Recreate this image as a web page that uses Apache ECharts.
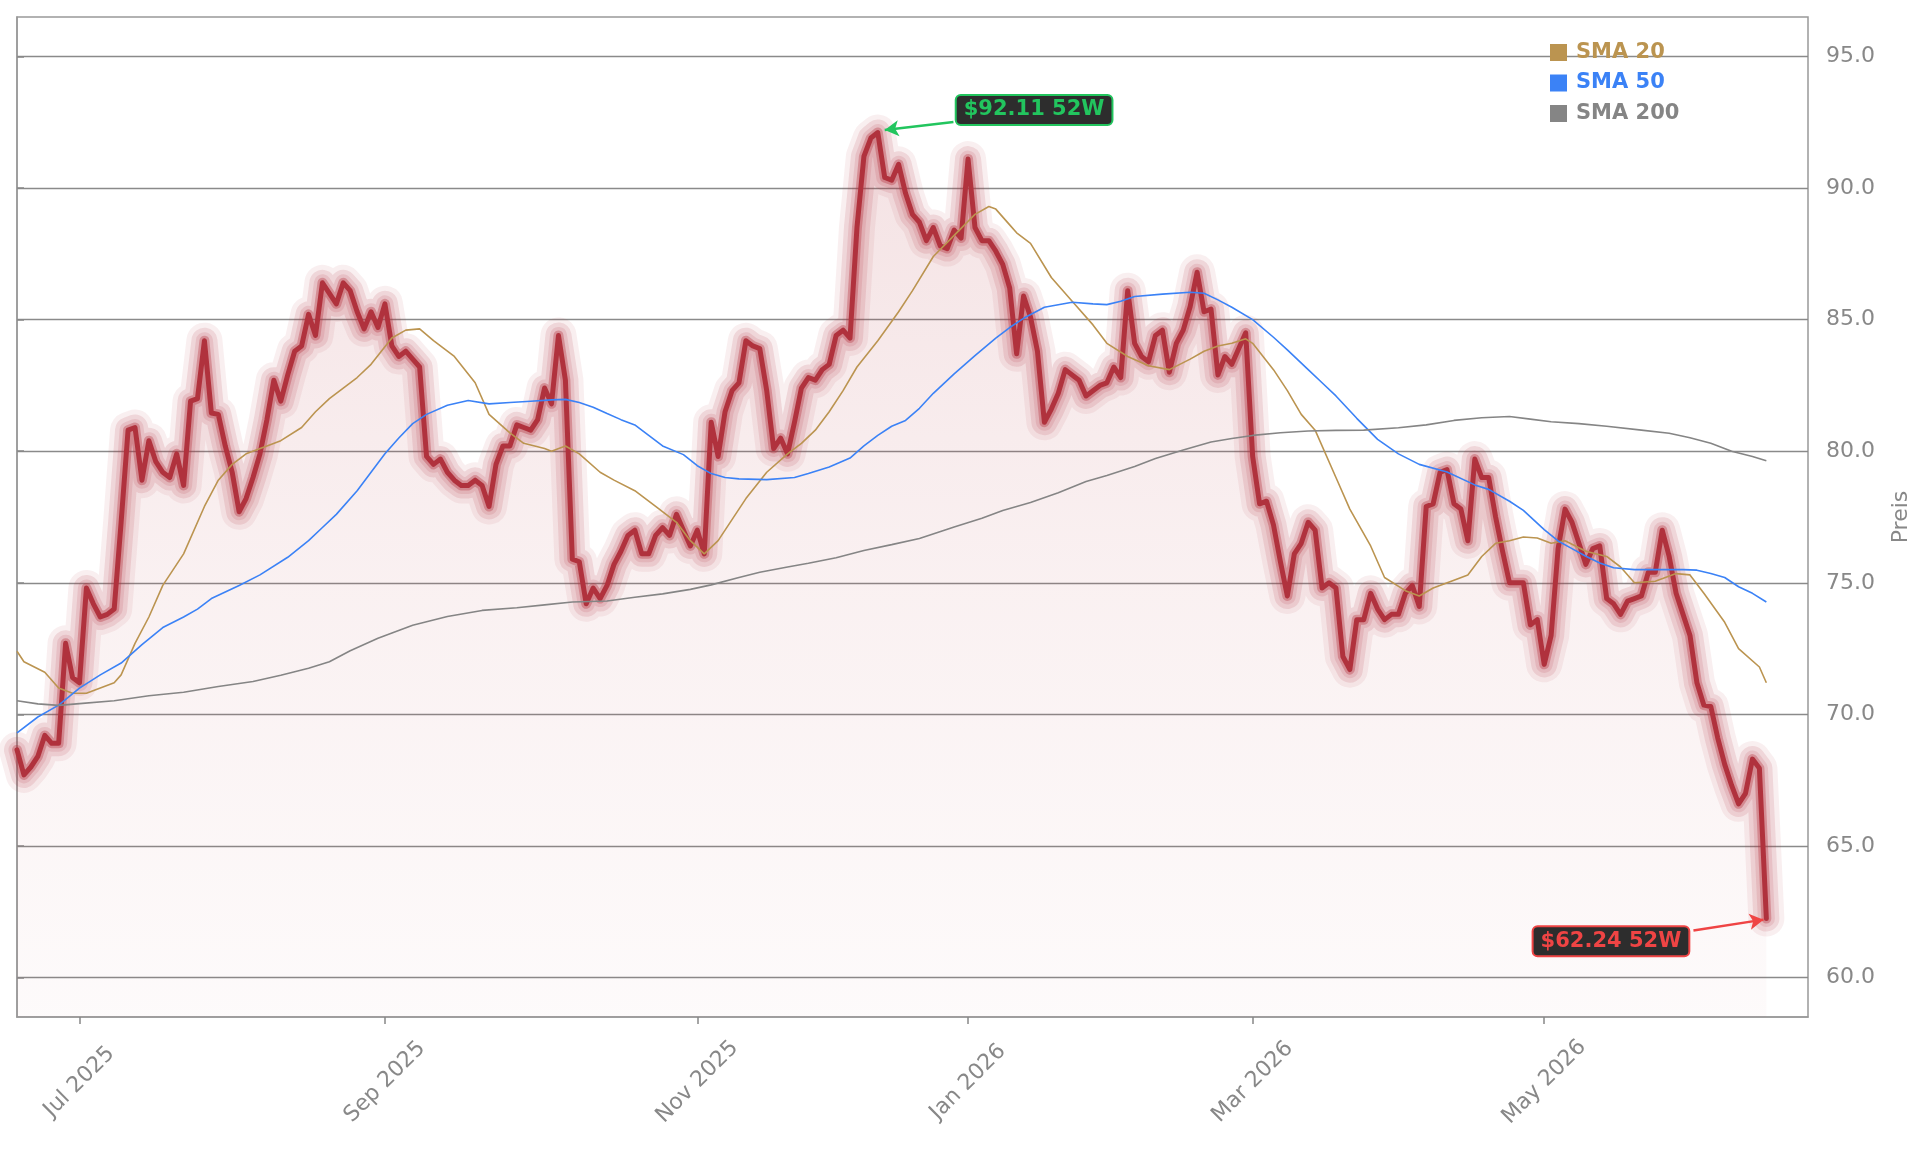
<!DOCTYPE html>
<html>
<head>
<meta charset="utf-8">
<title>Preis 52W</title>
<script src="https://cdn.jsdelivr.net/npm/echarts@6.0.0/dist/echarts.min.js"></script>
<style>
  html, body { margin: 0; padding: 0; background: #fff; }
  #chart { width: 1929px; height: 1153px; }
</style>
</head>
<body>
<div id="chart"></div>
<script>
// one close per trading day, index 0 = first day of the 52W window
const price = [
  68.65, 67.7, 68.0, 68.4, 69.2, 68.9, 68.9, 72.7, 71.4, 71.2,
  74.8, 74.2, 73.7, 73.8, 74.0, 77.3, 80.8, 80.9, 78.9, 80.4,
  79.6, 79.2, 79.0, 79.9, 78.7, 81.9, 82.0, 84.2, 81.45, 81.4,
  80.2, 79.2, 77.7, 78.2, 79.0, 79.9, 81.2, 82.7, 81.9, 82.9,
  83.8, 84.0, 85.2, 84.4, 86.4, 86.0, 85.6, 86.4, 86.1, 85.3,
  84.65, 85.3, 84.7, 85.6, 84.0, 83.6, 83.8, 83.5, 83.2, 79.8,
  79.5, 79.7, 79.2, 78.9, 78.7, 78.7, 78.9, 78.7, 77.9, 79.5,
  80.2, 80.2, 81.0, 80.9, 80.8, 81.2, 82.4, 81.8, 84.4, 82.7,
  75.9, 75.8, 74.2, 74.8, 74.4, 74.9, 75.7, 76.2, 76.8, 77.0,
  76.1, 76.1, 76.8, 77.1, 76.8, 77.6, 77.0, 76.4, 77.0, 76.1,
  81.1, 79.8, 81.5, 82.3, 82.6, 84.2, 84.0, 83.9, 82.3, 80.1,
  80.5, 79.9, 81.1, 82.4, 82.8, 82.7, 83.1, 83.3, 84.4, 84.6,
  84.3, 88.5, 91.2, 91.9, 92.11, 90.4, 90.3, 90.9, 89.8, 89.0,
  88.7, 88.0, 88.5, 87.8, 87.7, 88.4, 88.1, 91.1, 88.5, 88.0,
  88.0, 87.6, 87.1, 86.2, 83.7, 85.9, 85.1, 83.8, 81.1, 81.6,
  82.2, 83.1, 82.9, 82.7, 82.1, 82.3, 82.5, 82.6, 83.2, 82.8,
  86.1, 84.1, 83.6, 83.4, 84.4, 84.6, 83.0, 84.1, 84.6, 85.5,
  86.8, 85.3, 85.4, 82.9, 83.6, 83.3, 83.9, 84.5, 79.8, 78.0,
  78.1, 77.2, 75.8, 74.5, 76.1, 76.5, 77.3, 77.0, 74.8, 75.0,
  74.8, 72.2, 71.7, 73.6, 73.6, 74.6, 74.0, 73.6, 73.8, 73.8,
  74.6, 74.9, 74.1, 77.9, 78.0, 79.2, 79.3, 78.0, 77.8, 76.6,
  79.7, 79.0, 79.0, 77.5, 76.2, 75.0, 75.0, 75.0, 73.4, 73.6,
  71.9, 73.0, 76.3, 77.8, 77.3, 76.5, 75.7, 76.3, 76.4, 74.4,
  74.2, 73.8, 74.3, 74.4, 74.5, 75.4, 75.4, 77.0, 76.0, 74.6,
  73.8, 73.0, 71.2, 70.35, 70.3, 69.1, 68.1, 67.3, 66.6, 67.0,
  68.3, 67.95, 62.24
];

// moving averages as [day index, value]
const sma20 = [
  [0, 72.4], [1, 72.0], [4, 71.6], [6, 71.0], [8, 70.8], [10, 70.8], [12, 71.0], [14, 71.2],
  [15, 71.5], [17, 72.7], [19, 73.7], [21, 74.9], [24, 76.1], [27, 77.9], [29, 78.9], [31, 79.5],
  [33, 79.9], [36, 80.2], [38, 80.4], [41, 80.9], [43, 81.5], [45, 82.0], [47, 82.4], [49, 82.8],
  [51, 83.3], [54, 84.3], [56, 84.6], [58, 84.65], [60, 84.2], [63, 83.6], [66, 82.6], [68, 81.4],
  [71, 80.7], [73, 80.3], [76, 80.1], [77, 80.0], [79, 80.2], [81, 79.9], [84, 79.2], [86, 78.9],
  [89, 78.5], [92, 77.9], [95, 77.3], [97, 76.6], [99, 76.1], [101, 76.6], [103, 77.4], [105, 78.2],
  [108, 79.2], [111, 79.9], [113, 80.3], [115, 80.8], [117, 81.5], [119, 82.3], [121, 83.2], [124, 84.2],
  [127, 85.3], [129, 86.1], [132, 87.4], [135, 88.2], [138, 89.0], [140, 89.3], [141, 89.2], [143, 88.6],
  [144, 88.3], [146, 87.9], [149, 86.6], [152, 85.7], [155, 84.8], [157, 84.1], [160, 83.6], [163, 83.25],
  [166, 83.1], [169, 83.5], [171, 83.8], [173, 84.0], [175, 84.1], [177, 84.27], [178, 84.1], [181, 83.1],
  [183, 82.3], [185, 81.4], [187, 80.8], [190, 79.0], [192, 77.8], [195, 76.4], [197, 75.2], [200, 74.7],
  [202, 74.5], [204, 74.8], [207, 75.1], [209, 75.3], [211, 76.0], [213, 76.5], [215, 76.6], [217, 76.74],
  [219, 76.7], [221, 76.5], [223, 76.6], [226, 76.2], [229, 76.0], [231, 75.6], [233, 75.0], [236, 75.06],
  [239, 75.35], [241, 75.3], [243, 74.6], [246, 73.5], [248, 72.5], [251, 71.8], [252, 71.2]
];
const sma50 = [
  [0, 69.3], [3, 69.9], [6, 70.35], [9, 71.0], [12, 71.5], [15, 71.95], [18, 72.65], [21, 73.3],
  [24, 73.7], [26, 74.0], [28, 74.4], [32, 74.9], [35, 75.3], [39, 75.97], [42, 76.6], [44, 77.1],
  [46, 77.6], [49, 78.5], [51, 79.2], [53, 79.9], [55, 80.5], [57, 81.05], [59, 81.4], [62, 81.75],
  [65, 81.93], [68, 81.8], [71, 81.85], [74, 81.9], [77, 81.95], [79, 81.97], [81, 81.85], [83, 81.67],
  [85, 81.43], [87, 81.2], [89, 81.0], [91, 80.6], [93, 80.2], [96, 79.87], [98, 79.45], [100, 79.15],
  [102, 79.0], [104, 78.95], [108, 78.92], [112, 79.0], [114, 79.15], [117, 79.4], [120, 79.74], [122, 80.2],
  [124, 80.6], [126, 80.95], [128, 81.17], [130, 81.63], [132, 82.2], [135, 82.94], [138, 83.63], [141, 84.3],
  [143, 84.7], [145, 85.05], [148, 85.47], [152, 85.66], [155, 85.6], [157, 85.57], [159, 85.7], [161, 85.88],
  [165, 85.97], [169, 86.04], [171, 86.0], [173, 85.75], [175, 85.47], [178, 85.0], [181, 84.33], [183, 83.85],
  [186, 83.1], [188, 82.6], [190, 82.1], [193, 81.25], [196, 80.45], [199, 79.9], [202, 79.5], [206, 79.21],
  [210, 78.72], [212, 78.55], [215, 78.1], [217, 77.75], [220, 77.02], [222, 76.59], [224, 76.3], [226, 76.01],
  [228, 75.75], [230, 75.57], [233, 75.5], [236, 75.5], [240, 75.5], [242, 75.48], [244, 75.35], [246, 75.2],
  [248, 74.85], [250, 74.6], [252, 74.27]
];
const sma200 = [
  [0, 70.52], [3, 70.4], [6, 70.34], [9, 70.41], [14, 70.52], [19, 70.71], [24, 70.84], [29, 71.06],
  [34, 71.25], [38, 71.49], [42, 71.75], [45, 72.0], [48, 72.42], [52, 72.89], [57, 73.39], [62, 73.72],
  [67, 73.95], [72, 74.05], [76, 74.16], [80, 74.27], [85, 74.31], [89, 74.45], [93, 74.58], [97, 74.75],
  [100, 74.92], [104, 75.2], [107, 75.4], [111, 75.6], [114, 75.74], [118, 75.95], [122, 76.23], [126, 76.45],
  [130, 76.68], [135, 77.12], [139, 77.45], [142, 77.75], [146, 78.05], [150, 78.42], [154, 78.85], [157, 79.08],
  [161, 79.42], [164, 79.72], [168, 80.05], [172, 80.35], [175, 80.48], [178, 80.6], [182, 80.7], [186, 80.77],
  [190, 80.79], [194, 80.8], [199, 80.89], [203, 81.0], [207, 81.17], [211, 81.27], [215, 81.32], [218, 81.22],
  [221, 81.12], [225, 81.05], [229, 80.95], [234, 80.8], [238, 80.68], [241, 80.51], [244, 80.3], [247, 80.0],
  [250, 79.8], [252, 79.64]
];

// first trading day of each labelled month
const tickIdx = [9, 53, 98, 137, 178, 220];
const tickLabels = ['Jul 2025', 'Sep 2025', 'Nov 2025', 'Jan 2026', 'Mar 2026', 'May 2026'];
const yTicks = [60, 65, 70, 75, 80, 85, 90, 95];

const FONT = 'DejaVu Sans';
const RED = '#b0323d';
const GREEN = '#22c55e';
const LOSS = '#ef4444';
const GOLD = '#bb9450';
const BLUE = '#3b82f6';
const GREY = '#858585';

const pts = price.map((v, i) => [i, v]);
const hiVal = Math.max(...price), hiIdx = price.indexOf(hiVal);
const loVal = Math.min(...price), loIdx = price.indexOf(loVal);

const boxLabel = (color) => ({
  show: true, position: 'right', distance: 0,
  color: color, fontFamily: FONT, fontWeight: 'bold', fontSize: 21,
  backgroundColor: '#2d2d2d', borderColor: color, borderWidth: 2, borderRadius: 4,
  padding: [4, 7, 3, 7]
});

// glow around the price line: a few wide translucent strokes
const glow = [[36, 0.08], [26, 0.13], [17, 0.13], [10, 0.35]].map(([w, a]) => ({
  type: 'line', data: pts, showSymbol: false, silent: true, z: 3,
  lineStyle: { width: w, color: `rgba(180,50,60,${a})`, cap: 'round', join: 'round' }
}));

const smaSeries = (name, data, color) => ({
  name, type: 'line', data, showSymbol: false, silent: true, z: 6,
  itemStyle: { color }, lineStyle: { width: 1.6, color }
});

const chart = echarts.init(document.getElementById('chart'));
chart.setOption({
  animation: false,
  backgroundColor: '#fff',
  grid: { left: 17, top: 17, right: 121, bottom: 136, show: true, borderColor: '#999', borderWidth: 1.5 },
  legend: {
    data: [
      { name: 'SMA 20', textStyle: { color: GOLD } },
      { name: 'SMA 50', textStyle: { color: BLUE } },
      { name: 'SMA 200', textStyle: { color: GREY } }
    ],
    orient: 'vertical', left: 1550, top: 42, padding: 0, icon: 'rect', selectedMode: false,
    itemWidth: 17, itemHeight: 17, itemGap: 9.5,
    textStyle: { fontFamily: FONT, fontWeight: 'bold', fontSize: 21, padding: [0, 0, 0, 4] }
  },
  xAxis: {
    type: 'value', min: 0, max: 258,
    axisLine: { show: true, lineStyle: { color: '#999', width: 1.5 } },
    axisTick: { show: true, customValues: tickIdx, length: 7, lineStyle: { color: '#888', width: 1.5 } },
    axisLabel: {
      customValues: tickIdx, formatter: v => tickLabels[tickIdx.indexOf(v)],
      rotate: 45, align: 'center', verticalAlign: 'middle', margin: 65,
      color: '#888', fontFamily: FONT, fontSize: 22
    },
    splitLine: { show: false }
  },
  yAxis: {
    type: 'value', position: 'right', min: 58.5, max: 96.5,
    name: 'Preis', nameLocation: 'middle', nameRotate: 90, nameGap: 82,
    nameTextStyle: { color: '#888', fontFamily: FONT, fontSize: 22 },
    axisLine: { show: true, lineStyle: { color: '#999', width: 1.5 } },
    axisTick: { show: true, customValues: yTicks, length: 7, lineStyle: { color: '#888', width: 1.5 } },
    axisLabel: {
      customValues: yTicks, formatter: v => v.toFixed(1), margin: 18, padding: [4, 0, 0, 0],
      color: '#888', fontFamily: FONT, fontSize: 22
    },
    splitLine: { show: true, lineStyle: { color: '#8a8a8a', width: 1.3 } }
  },
  series: [
    {
      type: 'line', data: pts, showSymbol: false, silent: true, z: 1,
      lineStyle: { width: 0 },
      areaStyle: {
        origin: 'start',
        color: new echarts.graphic.LinearGradient(0, 0, 0, 1, [
          { offset: 0, color: 'rgba(180,50,60,0.2)' },
          { offset: 0.5, color: 'rgba(180,50,60,0.1)' },
          { offset: 1, color: 'rgba(180,50,60,0.03)' }
        ])
      }
    },
    ...glow,
    {
      type: 'line', data: pts, showSymbol: false, silent: true, z: 4,
      lineStyle: { width: 5, color: RED, cap: 'round', join: 'round' },
      markLine: {
        silent: true, symbol: ['none', 'arrow'], symbolSize: [12, 14], label: { show: false },
        data: [
          [{ coord: [hiIdx + 10.9, hiVal + 0.4], lineStyle: { color: GREEN, width: 2.5, type: 'solid' } },
           { coord: [hiIdx + 1, hiVal + 0.1] }],
          [{ coord: [loIdx - 10.5, loVal - 0.45], lineStyle: { color: LOSS, width: 2.5, type: 'solid' } },
           { coord: [loIdx - 0.4, loVal - 0.04] }]
        ]
      },
      markPoint: {
        silent: true, symbol: 'circle', symbolSize: 1, itemStyle: { color: 'transparent' },
        data: [
          { coord: [hiIdx + 11.3, hiVal + 0.86], label: { ...boxLabel(GREEN), formatter: `$${hiVal.toFixed(2)} 52W` } },
          { coord: [loIdx - 33.6, loVal - 0.86], label: { ...boxLabel(LOSS), formatter: `$${loVal.toFixed(2)} 52W` } }
        ]
      }
    },
    smaSeries('SMA 20', sma20, GOLD),
    smaSeries('SMA 50', sma50, BLUE),
    smaSeries('SMA 200', sma200, GREY)
  ]
});
</script>
</body>
</html>
